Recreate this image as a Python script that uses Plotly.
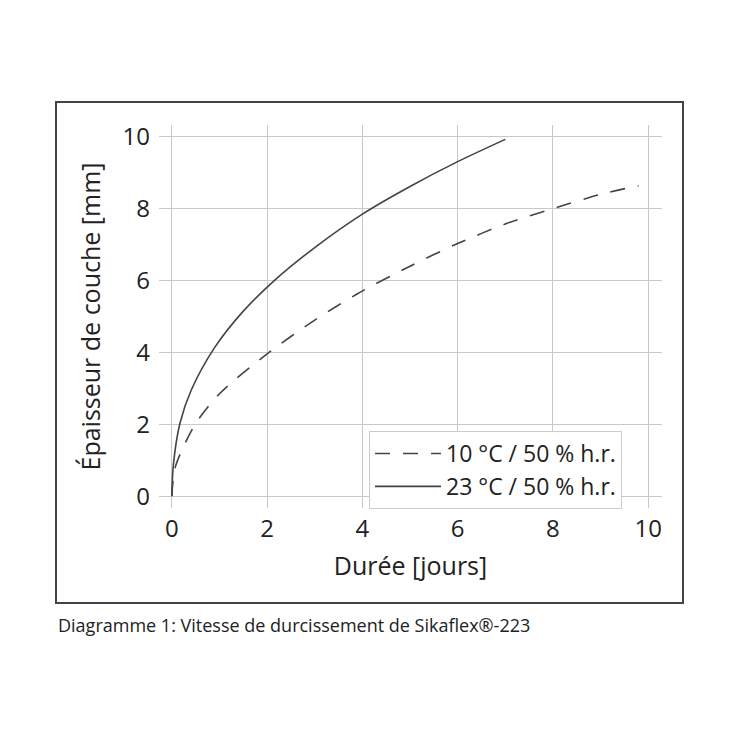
import plotly.graph_objects as go

# Data
days_23 = [0, 0.03, 0.17, 0.41, 0.9, 1.5, 2.15, 3.0, 4.0, 5.0, 6.0, 7.0]
thick_23 = [0, 0.85, 2.03, 2.96, 4.14, 5.15, 6.0, 6.92, 7.85, 8.62, 9.31, 9.93]

days_10 = [0, 0.07, 0.48, 1.0, 2.04, 3.0, 3.88, 5.0, 6.0, 7.05, 8.0, 9.0, 9.8]
thick_10 = [0, 0.8, 1.98, 2.85, 4.0, 4.9, 5.62, 6.4, 7.03, 7.6, 8.0, 8.4, 8.64]

tick_vals = [0, 2, 4, 6, 8, 10]

name_10 = "10 °C / 50 % h.r."
name_23 = "23 °C / 50 % h.r."

FONT = "Open Sans"
LINE_COLOR = "#444444"
GRID = "#c8c8c8"

fig = go.Figure()
fig.add_trace(go.Scatter(x=days_10, y=thick_10, mode="lines", name=name_10,
                         line=dict(color=LINE_COLOR, width=1.6, dash="15px,13px",
                                   shape="spline", smoothing=0.8)))
fig.add_trace(go.Scatter(x=days_23, y=thick_23, mode="lines", name=name_23,
                         line=dict(color=LINE_COLOR, width=1.6, shape="spline", smoothing=0.8)))

L, R, T, B = 159, 662, 125, 508
W = R - L
H = B - T

def px(xp):
    return (xp - L) / W

def py(yp):
    return (B - yp) / H

fig.update_layout(
    width=740, height=740,
    margin=dict(l=L, r=740 - R, t=T, b=740 - B),
    paper_bgcolor="white", plot_bgcolor="white",
    font=dict(family=FONT, size=24, color="#222222"),
    showlegend=True,
    legend=dict(x=px(369), y=py(431), xanchor="left", yanchor="top",
                bgcolor="white", bordercolor="#cccccc", borderwidth=1,
                font=dict(family=FONT, size=23, color="#222222"),
                tracegroupgap=0, itemwidth=66),
    xaxis=dict(range=[-0.27, 10.29], tickvals=tick_vals, showgrid=True, gridcolor=GRID,
               gridwidth=1, zeroline=False, showline=False, ticks="", ticklabelstandoff=4,
               tickfont=dict(family=FONT, size=24),
               title=dict(text="Durée [jours]", font=dict(family=FONT, size=25), standoff=14)),
    yaxis=dict(range=[-0.33, 10.33], tickvals=tick_vals, showgrid=True, gridcolor=GRID,
               gridwidth=1, zeroline=False, showline=False, ticks="", ticklabelstandoff=8,
               tickfont=dict(family=FONT, size=24),
               title=dict(text="Épaisseur de couche [mm]", font=dict(family=FONT, size=25), standoff=14)),
    shapes=[dict(type="rect", xref="paper", yref="paper",
                 x0=px(56), x1=px(683), y0=py(603), y1=py(102),
                 line=dict(color="#444444", width=2), layer="below")],
    annotations=[dict(text="Diagramme 1: Vitesse de durcissement de Sikaflex®-223",
                      xref="paper", yref="paper", x=px(56), y=py(625),
                      xanchor="left", yanchor="middle", showarrow=False,
                      font=dict(family=FONT, size=18, color="#222222"))],
)

fig.write_html("out.html")
